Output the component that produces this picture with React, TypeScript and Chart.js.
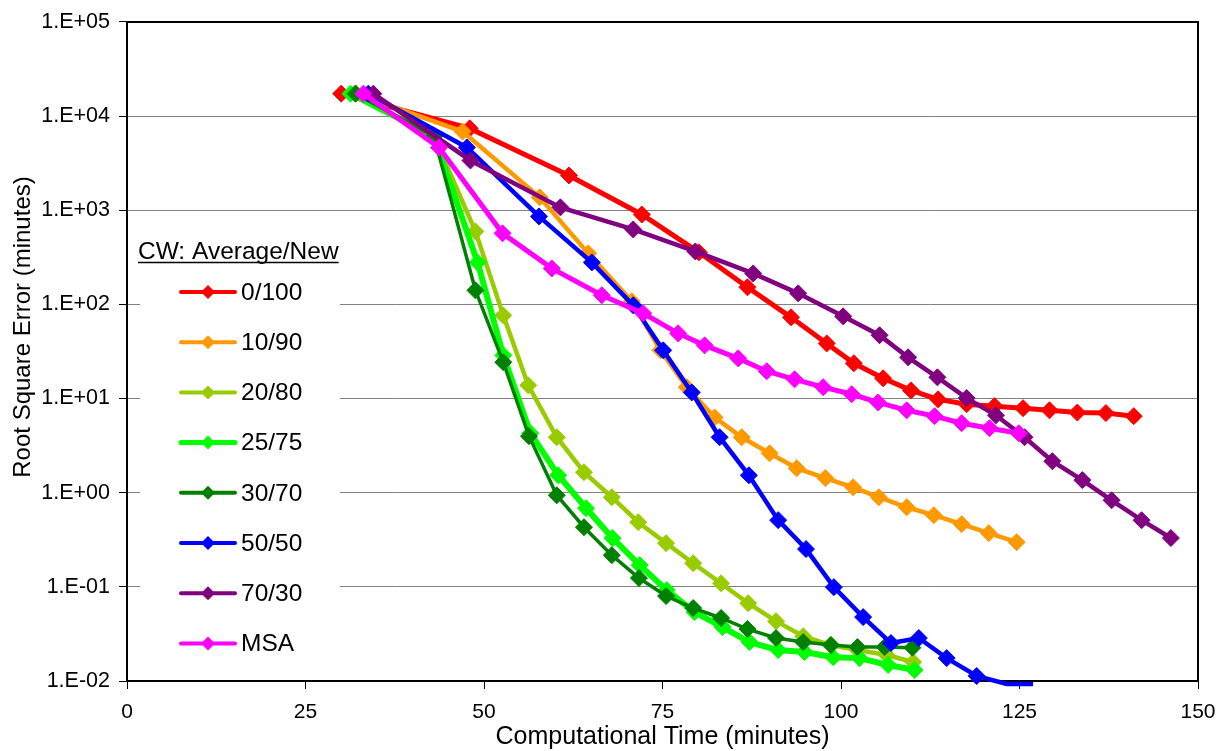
import React, { useEffect, useRef } from "react";
import { Chart, registerables } from "chart.js";

Chart.register(...registerables);

const seriesNames = ["0/100", "10/90", "20/80", "25/75", "30/70", "50/50", "70/30", "MSA"];

const time0_100 = [30.0, 48.0, 61.9, 72.1, 80.1, 86.9, 93.0, 98.0, 101.8, 105.9, 109.8, 113.6, 117.6, 121.5, 125.5, 129.2, 133.1, 137.1, 141.0];
const err0_100 = [17300, 7400, 2340, 900, 357, 152, 72.8, 38.5, 23.7, 16.4, 12.2, 9.8, 8.7, 8.3, 7.9, 7.5, 7.1, 7.0, 6.5];

const time10_90 = [32.1, 47.0, 57.8, 64.6, 70.7, 74.7, 78.4, 82.3, 86.1, 90.0, 93.8, 97.8, 101.7, 105.3, 109.2, 113.0, 116.9, 120.7, 124.6];
const err10_90 = [17300, 6850, 1370, 348, 108, 32.6, 13.2, 6.3, 3.88, 2.62, 1.82, 1.43, 1.14, 0.895, 0.7, 0.577, 0.463, 0.372, 0.298];

const time20_80 = [32.0, 43.0, 48.8, 52.7, 56.2, 60.2, 64.0, 67.9, 71.6, 75.5, 79.3, 83.2, 87.0, 90.9, 94.7, 98.5, 102.3, 106.4, 110.1];
const err20_80 = [17300, 6070, 596, 76.4, 13.8, 3.88, 1.65, 0.895, 0.486, 0.291, 0.178, 0.109, 0.067, 0.0432, 0.0299, 0.0241, 0.0213, 0.0189, 0.0159];

const time25_75 = [31.3, 43.0, 49.1, 52.7, 56.5, 60.4, 64.3, 68.0, 71.8, 75.6, 79.5, 83.4, 87.2, 91.2, 94.9, 98.9, 102.6, 106.6, 110.3];
const err25_75 = [17300, 6070, 279, 28.8, 4.28, 1.53, 0.684, 0.329, 0.17, 0.0923, 0.0539, 0.0374, 0.0259, 0.0213, 0.0203, 0.0179, 0.0175, 0.0148, 0.0131];

const time30_70 = [32.0, 43.0, 48.8, 52.7, 56.3, 60.2, 64.0, 67.9, 71.7, 75.5, 79.3, 83.2, 86.9, 90.9, 94.7, 98.6, 102.3, 106.1, 110.0];
const err30_70 = [17300, 6070, 141, 24.3, 3.98, 0.94, 0.43, 0.217, 0.124, 0.0798, 0.0595, 0.0467, 0.0356, 0.0286, 0.0259, 0.0241, 0.0229, 0.0229, 0.0226];

const time50_50 = [33.8, 47.6, 57.7, 65.1, 70.9, 75.1, 79.1, 83.0, 87.1, 91.2, 95.1, 99.0, 103.1, 107.0, 110.9, 114.8, 119.0, 123.2, 126.9];
const err50_50 = [17300, 4640, 859, 279, 97.7, 32.5, 11.6, 3.88, 1.53, 0.511, 0.252, 0.0993, 0.0477, 0.0253, 0.0286, 0.0175, 0.0113, 0.0093, 0.0093];

const time70_30 = [34.5, 48.1, 60.7, 70.9, 79.6, 87.7, 94.0, 100.3, 105.4, 109.4, 113.5, 117.6, 121.7, 125.7, 129.6, 133.8, 137.9, 142.1, 146.2];
const err70_30 = [17300, 3375, 1072, 625, 365, 213, 131, 74.6, 47, 27.4, 16.8, 10.1, 6.64, 3.88, 2.16, 1.36, 0.83, 0.51, 0.33];

const timeMSA = [33.1, 43.7, 52.6, 59.5, 66.5, 72.3, 77.2, 80.9, 85.6, 89.6, 93.5, 97.5, 101.5, 105.2, 109.2, 113.1, 116.9, 120.8, 124.9];
const errMSA = [17300, 4640, 568, 241, 125, 80.3, 49.2, 36.7, 26.7, 19.5, 16.0, 13.2, 11.1, 9.1, 7.5, 6.5, 5.47, 4.84, 4.28];

const xTicks = [0, 25, 50, 75, 100, 125, 150];
const yTickExponents = [-2, -1, 0, 1, 2, 3, 4, 5];

const seriesTimes = [time0_100, time10_90, time20_80, time25_75, time30_70, time50_50, time70_30, timeMSA];
const seriesErrors = [err0_100, err10_90, err20_80, err25_75, err30_70, err50_50, err70_30, errMSA];
const seriesColors = ["#FF0000", "#FF9900", "#99CC00", "#00FF00", "#008000", "#0000FF", "#800080", "#FF00FF"];
const seriesWidths = [5, 4.5, 4.5, 6, 3.5, 4.5, 4.5, 5];

const FONT = "'Liberation Sans', Arial, sans-serif";
const yTitle = "Root Square Error (minutes)";

const legendPlugin = {
  id: "cwLegend",
  beforeDatasetsDraw(chart: any) {
    const ctx = chart.ctx;
    const area = chart.chartArea;
    ctx.save();
    ctx.strokeStyle = "#000";
    ctx.lineWidth = 2;
    ctx.beginPath();
    ctx.moveTo(area.left, area.top);
    ctx.lineTo(area.right, area.top);
    ctx.lineTo(area.right, area.bottom);
    ctx.stroke();
    ctx.fillStyle = "#fff";
    ctx.fillRect(140, 226, 200, 442);
    ctx.fillStyle = "#000";
    ctx.font = `24.5px ${FONT}`;
    ctx.textBaseline = "middle";
    ctx.textAlign = "left";
    const title = "CW: Average/New";
    ctx.fillText(title, 138, 252);
    const w = ctx.measureText(title).width;
    ctx.lineWidth = 1.5;
    ctx.beginPath();
    ctx.moveTo(138, 262.5);
    ctx.lineTo(138 + w, 262.5);
    ctx.stroke();
    chart.data.datasets.forEach((ds: any, i: number) => {
      const y = 292 + i * 50.2;
      ctx.strokeStyle = ds.borderColor;
      ctx.lineWidth = i === 3 ? 5 : 4;
      ctx.lineCap = "round";
      ctx.beginPath();
      ctx.moveTo(181, y);
      ctx.lineTo(235, y);
      ctx.stroke();
      ctx.fillStyle = ds.borderColor;
      ctx.beginPath();
      const r = 7;
      ctx.moveTo(208, y - r);
      ctx.lineTo(208 + r, y);
      ctx.lineTo(208, y + r);
      ctx.lineTo(208 - r, y);
      ctx.closePath();
      ctx.fill();
      ctx.fillStyle = "#000";
      ctx.fillText(ds.label, 241, y + 1);
    });
    // y-axis title
    ctx.save();
    ctx.translate(23, 327);
    ctx.rotate(-Math.PI / 2);
    ctx.textAlign = "center";
    ctx.font = `24px ${FONT}`;
    ctx.fillText(yTitle, 0, 0);
    ctx.restore();
    ctx.restore();
  },
};

function formatExp(v: number) {
  const e = Math.round(Math.log10(v));
  return `1.E${e >= 0 ? "+" : "-"}${String(Math.abs(e)).padStart(2, "0")}`;
}

export default function App() {
  const canvasRef = useRef<HTMLCanvasElement | null>(null);

  useEffect(() => {
    if (!canvasRef.current) return;
    Chart.defaults.font.family = FONT;
    Chart.defaults.color = "#000";
    const datasets = seriesNames.map((name, i) => ({
      label: name,
      data: seriesTimes[i].map((t, j) => ({ x: t, y: seriesErrors[i][j] })),
      borderColor: seriesColors[i],
      backgroundColor: seriesColors[i],
      borderWidth: seriesWidths[i],
      pointStyle: "rectRot",
      pointRadius: (c: any) => (c.raw && c.raw.y < 0.01 ? 0 : 8.5),
      pointBorderWidth: 1,
      pointBorderColor: seriesColors[i],
      pointBackgroundColor: seriesColors[i],
      tension: 0,
      order: seriesNames.length - i,
      clip: { left: 12, top: 12, right: 12, bottom: 6 },
    }));
    const chart = new Chart(canvasRef.current, {
      type: "line",
      data: { datasets },
      plugins: [legendPlugin],
      options: {
        animation: false,
        responsive: true,
        maintainAspectRatio: false,
        layout: { padding: { top: 21, right: 33, left: 0, bottom: 0 } },
        plugins: { legend: { display: false }, tooltip: { enabled: false } },
        scales: {
          x: {
            type: "linear",
            min: 0,
            max: 150,
            afterFit: (s: any) => {
              s.height = 70;
            },
            afterBuildTicks: (s: any) => {
              s.ticks = xTicks.map((v) => ({ value: v }));
            },
            ticks: { font: { size: 21 }, color: "#000", padding: 11, maxRotation: 0, autoSkip: false },
            grid: { drawOnChartArea: false, drawTicks: true, tickLength: 8, tickColor: "#000", tickWidth: 1 },
            border: { display: true, color: "#000", width: 2 },
            title: {
              display: true,
              text: "Computational Time (minutes)",
              font: { size: 25, lineHeight: 1 },
              color: "#000",
              padding: { top: 0, bottom: 1 },
            },
          },
          y: {
            type: "logarithmic",
            min: 0.01,
            max: 100000,
            afterFit: (s: any) => {
              s.width = 127;
            },
            afterBuildTicks: (s: any) => {
              s.ticks = yTickExponents.map((e) => ({ value: Math.pow(10, e) }));
            },
            ticks: {
              font: { size: 21.5 },
              color: "#000",
              padding: 9,
              autoSkip: false,
              callback: (v: any) => formatExp(Number(v)),
            },
            grid: { color: "#808080", lineWidth: 1, drawTicks: true, tickLength: 8, tickColor: "#000", tickWidth: 1 },
            border: { display: true, color: "#000", width: 2 },
            title: { display: false },
          },
        },
      },
    });
    return () => chart.destroy();
  }, []);

  return (
    <div style={{ position: "absolute", left: 0, top: 0, width: 1231, height: 751, background: "#fff" }}>
      <canvas ref={canvasRef} />
    </div>
  );
}
